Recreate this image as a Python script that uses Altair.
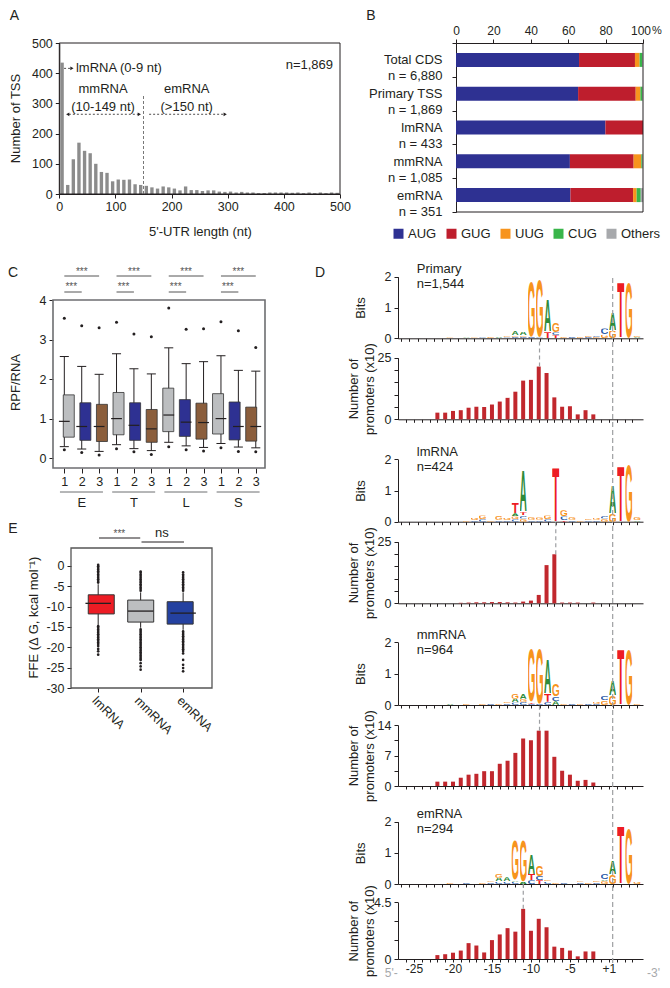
import base64
import altair as alt
import pandas as pd

FONT = "Liberation Sans"
INK = "#231F20"
W, H = 654, 972
ONE = pd.DataFrame({"k": [0]})

# ---------------------------------------------------------------- A data
utr_bin_start = list(range(0, 500, 10))
utr_counts = [435, 30, 115, 170, 143, 135, 100, 73, 70, 42,
              48, 47, 48, 32, 30, 27, 22, 18, 25, 22,
              18, 12, 25, 13, 13, 10, 12, 12, 8, 7,
              8, 5, 7, 5, 5, 3, 3, 5, 5, 5,
              5, 4, 5, 3, 5, 3, 5, 3, 5, 4]

# ---------------------------------------------------------------- B data
b_categories = ["Total CDS", "Primary TSS", "lmRNA", "mmRNA", "emRNA"]
b_counts = ["n = 6,880", "n = 1,869", "n = 433", "n = 1,085", "n = 351"]
codons = ["AUG", "GUG", "UUG", "CUG", "Others"]
pct_aug = [65.8, 65.3, 79.9, 60.9, 61.2]
pct_gug = [29.9, 30.8, 20.1, 34.1, 33.5]
pct_uug = [2.5, 2.5, 0.0, 4.1, 1.9]
pct_cug = [1.4, 1.0, 0.0, 0.6, 2.2]
pct_oth = [0.4, 0.4, 0.0, 0.3, 1.2]

# ---------------------------------------------------------------- C data
c_groups = ["E", "T", "L", "S"]
c_lo = [0.29, 0.23, 0.17, 0.34, 0.24, 0.19, 0.40, 0.31, 0.27, 0.37, 0.28, 0.26]
c_q1 = [0.53, 0.45, 0.42, 0.59, 0.45, 0.40, 0.67, 0.55, 0.48, 0.61, 0.46, 0.43]
c_med = [0.93, 0.80, 0.80, 1.00, 0.83, 0.74, 1.09, 0.91, 0.90, 1.00, 0.80, 0.80]
c_q3 = [1.60, 1.40, 1.36, 1.66, 1.40, 1.23, 1.77, 1.48, 1.39, 1.63, 1.42, 1.29]
c_hi = [2.57, 2.32, 2.12, 2.64, 2.26, 2.13, 2.79, 2.39, 2.44, 2.59, 2.22, 2.20]
c_out_low = [0.21, 0.14, 0.08, 0.24, 0.16, 0.09, 0.29, 0.21, 0.18, 0.26, 0.17, 0.16]
c_out_high = [3.54, 3.35, 3.30, 3.44, 3.14, 3.07, 3.80, 3.26, 3.27, 3.45, 3.22, 2.80]

# ---------------------------------------------------------------- E data
e_labels = ["lmRNA", "mmRNA", "emRNA"]
e_lo = [-14.5, -15.2, -15.7]
e_q1 = [-11.8, -13.8, -14.3]
e_med = [-9.2, -11.1, -11.6]
e_q3 = [-7.1, -8.4, -8.8]
e_hi = [-4.5, -6.5, -6.5]
e_out_lm = [-4.1, -3.7, -3.3, -2.9, -2.5, -2.1, -1.7, -1.3, -0.9, -0.5, -0.1, 0.25,
            -14.8, -15.2, -15.6, -16.0, -16.4, -16.8, -17.2, -17.6, -18.0, -18.4,
            -18.8, -19.2, -19.7, -20.4, -21.0, -21.8]
e_out_mm = [-6.1, -5.7, -5.3, -4.9, -4.5, -4.1, -3.7, -3.3, -2.9, -2.5, -2.1, -1.7, -1.4,
            -15.6, -16.0, -16.4, -16.8, -17.2, -17.6, -18.0, -18.4, -18.8, -19.2, -19.6,
            -20.0, -20.4, -20.8, -21.2, -21.6, -22.0, -22.4, -22.8, -23.1, -23.9, -24.7, -25.5]
e_out_em = [-6.1, -5.7, -5.3, -4.9, -4.5, -4.1, -3.7, -3.3, -2.9, -2.5, -2.1, -1.6,
            -16.1, -16.5, -16.9, -17.3, -17.7, -18.1, -18.5, -18.9, -19.3, -19.7, -20.1,
            -20.5, -20.9, -21.5, -23.1, -24.3, -25.1, -25.9]

# ---------------------------------------------------------------- D data
d_pos = [-22, -21, -20, -19, -18, -17, -16, -15, -14, -13, -12,
         -11, -10, -9, -8, -7, -6, -5, -4, -3, -2]
bars_primary = [2.7, 2.7, 3.4, 3.7, 4.7, 5.1, 5.0, 6.0, 7.2, 8.7, 11.2,
                15.7, 16.0, 21.4, 18.8, 8.9, 5.1, 5.3, 2.0, 3.7, 2.0]
bars_lm = [0, 0, 0, 0.2, 0.3, 0.4, 0.4, 0.5, 0.5, 0.4, 0.3,
           0.7, 1.1, 3.4, 15.5, 19.9, 0.3, 0.3, 0.3, 0, 0.3]
bars_mm = [1.0, 1.0, 1.0, 1.9, 2.6, 2.8, 3.4, 3.4, 5.1, 5.8, 7.6,
           10.9, 10.5, 12.7, 12.7, 6.7, 3.5, 2.6, 1.2, 1.4, 0.8]
bars_em = [0.31, 0.38, 0.5, 0.67, 1.26, 1.07, 0.52, 1.5, 1.95, 2.45, 2.17,
           3.98, 2.24, 3.19, 2.52, 0.98, 0.88, 0.67, 0.21, 0.6, 0.6]

p_pos = [-20, -18, -17, -16, -15, -14, -13, -13,
         -12, -12, -12, -11, -11, -11, -10, -10, -9, -9, -8, -8, -7, -7, -7,
         -6, -5, -4, -3, -3, -2, -2, -1, -1, 1, 1, 2, 3, 4, 4]
p_let = ['G', 'A', 'G', 'C', 'G', 'A', 'C', 'G',
         'C', 'G', 'A', 'C', 'G', 'A', 'C', 'G', 'C', 'G', 'T', 'A', 'T', 'C', 'G',
         'G', 'C', 'G', 'C', 'G', 'G', 'C', 'G', 'C', 'G', 'A', 'T', 'G', 'A', 'G']
p_bits = [.03, .03, .03, .03, .04, .04, .03, .04,
          .05, .06, .13, .05, .05, .12, .05, 1.88, .03, 1.92, .2, 1.06, .1, .1, .3,
          .04, .04, .05, .04, .04, .05, .04, .12, .2, .25, .6, 1.9, 1.9, .04, .05]

l_pos = [-18, -17, -17, -16, -16, -15, -14, -14, -13, -13,
         -12, -12, -12, -12, -11, -11, -11, -11, -10, -10, -9, -9, -8, -8,
         -7, -6, -6, -6, -5, -5, -4, -3, -3, -2, -2, -1, -1,
         1, 1, 2, 3, 4, 4]
l_let = ['G', 'C', 'G', 'C', 'G', 'G', 'C', 'G', 'C', 'G',
         'C', 'G', 'A', 'T', 'G', 'C', 'T', 'A', 'C', 'G', 'C', 'G', 'C', 'G',
         'T', 'T', 'C', 'G', 'C', 'G', 'G', 'C', 'G', 'C', 'G', 'G', 'C',
         'G', 'A', 'T', 'G', 'A', 'G']
l_bits = [.06, .05, .07, .08, .12, .05, .06, .14, .05, .08,
          .08, .09, .1, .34, .1, .1, .1, 1.36, .06, .1, .06, .08, .08, .12,
          1.84, .05, .12, .2, .06, .1, .04, .05, .06, .06, .07, .1, .1,
          .27, .94, 1.88, 1.92, .05, .1]

m_pos = [-20, -18, -16, -15, -14, -13, -13,
         -12, -12, -12, -11, -11, -11, -10, -10, -10, -9, -9, -8, -8, -8, -7, -7, -7,
         -6, -5, -4, -3, -2, -2, -1, -1,
         1, 1, 2, 3, 4]
m_let = ['A', 'G', 'G', 'C', 'G', 'C', 'G',
         'C', 'A', 'G', 'C', 'G', 'A', 'C', 'T', 'G', 'C', 'G', 'C', 'T', 'A', 'A', 'C', 'G',
         'G', 'C', 'G', 'C', 'C', 'G', 'G', 'C',
         'G', 'A', 'T', 'G', 'G']
m_bits = [.03, .03, .03, .03, .04, .05, .06,
          .08, .12, .17, .1, .1, .18, .04, .06, 1.78, .04, 1.88, .1, .25, 1.17, .12, .15, .4,
          .04, .04, .05, .06, .04, .07, .15, .15,
          .3, .5, 1.88, 1.86, .06]

e_pos = [-20, -18, -16, -15, -15, -14, -14, -14, -13, -13,
         -12, -12, -12, -11, -11, -10, -10, -10, -9, -9, -9, -8, -8,
         -7, -6, -4, -4, -3, -2, -2, -1, -1, -1,
         1, 1, 2, 3, 4]
e_let = ['G', 'C', 'G', 'C', 'G', 'C', 'A', 'G', 'C', 'A',
         'C', 'A', 'G', 'A', 'G', 'C', 'T', 'A', 'T', 'C', 'G', 'C', 'G',
         'G', 'C', 'C', 'G', 'G', 'C', 'G', 'G', 'A', 'C',
         'G', 'A', 'T', 'G', 'G']
e_bits = [.03, .03, .04, .05, .04, .08, .12, .14, .08, .14,
          .07, .06, 1.34, .08, 1.39, .12, .2, .66, .12, .14, .35, .08, .05,
          .04, .04, .05, .04, .05, .06, .05, .1, .05, .18,
          .3, .45, 1.95, 1.86, .08]

# ---------------------------------------------------------------- styles
codon_colors = ["#2E3192", "#BE1E2D", "#F7941D", "#39B54A", "#A7A9AC"]
C_FILLS = ["#BCBEC0", "#2E3192", "#8B5E3C"]
E_FILLS = ["#ED1C24", "#BCBEC0", "#2441A0"]
BAR_RED = "#C1272D"
DASH = "#9D9FA2"
LETTER_COLORS = {"A": "#2E8B3A", "C": "#2B5BA8", "G": "#F7941D", "T": "#ED1C24"}
LETTER_W = {"A": 72, "C": 66, "G": 70, "T": 60}


def glyph_url(ch):
    w = LETTER_W[ch]
    svg = ('<svg xmlns="http://www.w3.org/2000/svg" width="%d" height="75" '
           'viewBox="%.1f -73.5 %d 75" preserveAspectRatio="none">'
           '<text x="0" y="0" text-anchor="middle" font-family="Liberation Sans, Arial, sans-serif" '
           'font-weight="bold" font-size="100" fill="%s">%s</text></svg>') % (w, -w / 2, w, LETTER_COLORS[ch], ch)
    return "data:image/svg+xml;base64," + base64.b64encode(svg.encode()).decode()


URLS = {ch: glyph_url(ch) for ch in "ACGT"}
NUM = "'' + datum.value"


def ax(orient, offset, **kw):
    d = dict(orient=orient, offset=offset, grid=False, tickSize=4, labelPadding=3,
             labelFontSize=12.5, labelColor=INK, tickColor=INK, domainColor=INK,
             titleFontSize=13, titleFontWeight="normal", titleColor=INK,
             labelFlush=False, labelOverlap=False, title=None)
    d.update(kw)
    return alt.Axis(**d)


def left_title(title, tx, ty):
    return dict(title=title, titleX=tx, titleY=ty, titleAngle=270,
                titleBaseline="middle", titleAlign="center")


def XD(v, s):
    return alt.XDatum(v, scale=s, axis=None, type="quantitative")


def YD(v, s):
    return alt.YDatum(v, scale=s, axis=None, type="quantitative")


def dtext(text, x, y, xs, ys, **mk):
    m = dict(font=FONT, color=INK, fontSize=13, baseline="middle", align="center")
    m.update(mk)
    return alt.Chart(ONE).mark_text(text=text, **m).encode(x=XD(x, xs), y=YD(y, ys))


def vtext(text, x, y, **mk):
    m = dict(font=FONT, color=INK, fontSize=14, baseline="middle", align="center")
    m.update(mk)
    return alt.Chart(ONE).mark_text(text=text, **m).encode(x=alt.value(x), y=alt.value(y))


units = []

# ================================================================ panel A
AX = alt.Scale(domain=[0, 500], range=[51.3, 332], nice=False, zero=False)
AY = alt.Scale(domain=[0, 500], range=[186, 35], nice=False, zero=False)
dfA = pd.DataFrame({"start": utr_bin_start, "count": utr_counts})
dfA["x0"] = dfA["start"] + 2
dfA["x1"] = dfA["start"] + 8

units.append(alt.Chart(dfA).mark_bar(color="#8C8C8C").encode(
    x=alt.X("x0:Q", scale=AX, axis=ax("bottom", 186 - H, values=[0, 100, 200, 300, 400, 500],
                                       labelExpr=NUM, labelPadding=2,
                                       title="5'-UTR length (nt)", titleX=192, titleY=37,
                                       titleBaseline="middle", titleAlign="center")),
    x2="x1:Q",
    y=alt.Y("count:Q", scale=AY, axis=ax("left", -51.3, values=[0, 100, 200, 300, 400, 500],
                                         labelExpr=NUM,
                                         **left_title("Number of TSS", -44.3, 110))),
    y2=alt.datum(0),
))
units.append(alt.Chart(ONE).mark_rect(fillOpacity=0, stroke=INK, strokeWidth=1).encode(
    x=XD(0, AX), x2=alt.datum(500), y=YD(0, AY), y2=alt.datum(500)))
units.append(alt.Chart(ONE).mark_rule(strokeDash=[3, 2], color="#555555", strokeWidth=0.8).encode(
    x=XD(150, AX), y=YD(0, AY), y2=alt.datum(328)))


def a_arrow(x0, x1, y):
    return alt.Chart(ONE).mark_rule(strokeDash=[2, 2], color=INK, strokeWidth=0.8).encode(
        x=XD(x0, AX), x2=alt.datum(x1), y=YD(y, AY))


def a_head(x, y, shape):
    return alt.Chart(ONE).mark_point(shape=shape, filled=True, size=14, color=INK, opacity=1).encode(
        x=XD(x, AX), y=YD(y, AY))


units += [
    a_arrow(8.5, 21, 416), a_head(22.5, 416, "triangle-right"),
    a_arrow(17, 140, 264), a_head(15, 264, "triangle-left"), a_head(142.5, 264, "triangle-right"),
    a_arrow(160, 293, 264), a_head(295.5, 264, "triangle-right"),
    dtext("lmRNA (0-9 nt)", 29.7, 416, AX, AY, align="left"),
    dtext("mmRNA", 78, 347, AX, AY),
    dtext("(10-149 nt)", 78, 288, AX, AY),
    dtext("emRNA", 227, 347, AX, AY),
    dtext("(>150 nt)", 227, 288, AX, AY),
    dtext("n=1,869", 487.6, 427, AX, AY, align="right"),
]

# ================================================================ panel B
b_keys = [c + "|" + n for c, n in zip(b_categories, b_counts)]
rows = []
for i, key in enumerate(b_keys):
    for k, vals in enumerate([pct_aug, pct_gug, pct_uug, pct_cug, pct_oth]):
        rows.append({"key": key, "codon": codons[k], "pct": vals[i], "k": k})
dfB = pd.DataFrame(rows)
BX = alt.Scale(domain=[0, 100], range=[448, 635], nice=False, zero=False)
BY = alt.Scale(domain=b_keys, range=[35, 204], paddingInner=0, paddingOuter=0)

units.append(alt.Chart(dfB).mark_bar(height=14).encode(
    x=alt.X("pct:Q", stack="zero", scale=BX,
            axis=ax("top", -35, values=[0, 20, 40, 60, 80, 100], labelPadding=2, labelExpr=NUM,
                    labelFontSize=12,
                    labelOffset={"condition": {"test": "datum.value == 100", "value": -2.5}, "value": 0})),
    y=alt.Y("key:N", sort=b_keys, scale=BY,
            axis=ax("left", -448, tickBand="extent", labelExpr="split(datum.label, '|')",
                    labelLineHeight=16, labelFontSize=13, labelPadding=10)),
    color=alt.Color("codon:N", scale=alt.Scale(domain=codons, range=codon_colors),
                    legend=alt.Legend(orient="none", legendX=384, legendY=219, direction="horizontal",
                                      title=None, symbolType="square", symbolSize=100,
                                      symbolStrokeWidth=0, labelFontSize=13, labelColor=INK,
                                      columnPadding=8, labelOffset=3, labelFont=FONT)),
    order=alt.Order("k:Q"),
))
units.append(alt.Chart(ONE).mark_rule(color=INK, strokeWidth=1).encode(
    x=XD(100, BX), y=alt.value(35), y2=alt.value(204)))
units.append(alt.Chart(ONE).mark_rule(color=INK, strokeWidth=1).encode(
    x=XD(0, BX), x2=alt.datum(100), y=alt.value(204)))

# ================================================================ panel C
CX = alt.Scale(domain=[-0.65, 11.53], range=[45, 257], nice=False, zero=False)
CY = alt.Scale(domain=[-0.25, 4], range=[460, 292], nice=False, zero=False)
dfC = pd.DataFrame({"i": list(range(12)), "lo": c_lo, "q1": c_q1, "med": c_med,
                    "q3": c_q3, "hi": c_hi})
dfC["fill"] = [C_FILLS[i % 3] for i in range(12)]
dfC["cx0"] = dfC["i"] - 0.26
dfC["cx1"] = dfC["i"] + 0.26
dfC["mx0"] = dfC["i"] - 0.31
dfC["mx1"] = dfC["i"] + 0.31
dfCo = pd.DataFrame({"i": list(range(12)) * 2, "v": c_out_low + c_out_high})

units.append(alt.Chart(dfC).mark_rule(color=INK, strokeWidth=1).encode(
    x=alt.X("i:Q", scale=CX, axis=ax("bottom", 460 - H, values=list(range(12)), tickSize=5,
                                     labelExpr="'' + (datum.value % 3 + 1)", domain=False, labelPadding=2)),
    y=alt.Y("lo:Q", scale=CY, axis=ax("left", -45, values=[0, 1, 2, 3, 4], domain=False, labelExpr=NUM,
                                      **left_title("RPF/RNA", -38, 374))),
    y2="hi:Q"))
units.append(alt.Chart(dfC).mark_rule(color=INK, strokeWidth=1).encode(
    x=alt.X("cx0:Q", scale=CX, axis=None), x2="cx1:Q", y=alt.Y("lo:Q", scale=CY, axis=None)))
units.append(alt.Chart(dfC).mark_rule(color=INK, strokeWidth=1).encode(
    x=alt.X("cx0:Q", scale=CX, axis=None), x2="cx1:Q", y=alt.Y("hi:Q", scale=CY, axis=None)))
units.append(alt.Chart(dfC).mark_bar(width=11, stroke="#333333", strokeWidth=0.8).encode(
    x=alt.X("i:Q", scale=CX, axis=None), y=alt.Y("q1:Q", scale=CY, axis=None), y2="q3:Q",
    color=alt.Color("fill:N", scale=None)))
units.append(alt.Chart(dfC).mark_rule(color=INK, strokeWidth=1.2).encode(
    x=alt.X("mx0:Q", scale=CX, axis=None), x2="mx1:Q", y=alt.Y("med:Q", scale=CY, axis=None)))
units.append(alt.Chart(dfCo).mark_point(filled=True, size=9, color=INK, opacity=1).encode(
    x=alt.X("i:Q", scale=CX, axis=None), y=alt.Y("v:Q", scale=CY, axis=None)))
units.append(alt.Chart(ONE).mark_rect(fillOpacity=0, stroke="#6D6E71", strokeWidth=1.6).encode(
    x=XD(-0.65, CX), x2=alt.datum(11.53), y=YD(-0.25, CY), y2=alt.datum(4)))

dfG = pd.DataFrame({"g": c_groups, "gi": [0, 1, 2, 3]})
dfG["a"] = dfG["gi"] * 3
dfG["b"] = dfG["gi"] * 3 + 1
dfG["c"] = dfG["gi"] * 3 + 2
dfG["ul0"] = dfG["gi"] * 3 - 0.25
dfG["ul1"] = dfG["gi"] * 3 + 2.22
dfG["s2"] = dfG["gi"] * 3 + 0.4

units.append(alt.Chart(dfG).mark_rule(color="#6D6E71", strokeWidth=1).encode(
    x=alt.X("ul0:Q", scale=CX, axis=None), x2="ul1:Q", y=alt.value(484)))
units.append(alt.Chart(dfG).mark_text(fontSize=13, color=INK, font=FONT, baseline="middle").encode(
    x=alt.X("b:Q", scale=CX, axis=None), y=alt.value(495), text="g:N"))
units.append(alt.Chart(dfG).mark_rule(color="#555555", strokeWidth=1).encode(
    x=alt.X("a:Q", scale=CX, axis=None), x2="c:Q", y=alt.value(268)))
units.append(alt.Chart(dfG).mark_rule(color="#555555", strokeWidth=1).encode(
    x=alt.X("a:Q", scale=CX, axis=None), x2="b:Q", y=alt.value(284)))
units.append(alt.Chart(dfG).mark_text(text="***", fontSize=10, color="#555555", font=FONT,
                                      baseline="alphabetic").encode(
    x=alt.X("b:Q", scale=CX, axis=None), y=alt.value(266.5)))
units.append(alt.Chart(dfG).mark_text(text="***", fontSize=10, color="#555555", font=FONT,
                                      baseline="alphabetic").encode(
    x=alt.X("s2:Q", scale=CX, axis=None), y=alt.value(282)))

# ================================================================ panel E
EX = alt.Scale(domain=[-0.64, 2.68], range=[63, 204], nice=False, zero=False)
EY = alt.Scale(domain=[-30, 4.4], range=[680, 540], nice=False, zero=False)
dfE = pd.DataFrame({"i": [0, 1, 2], "lo": e_lo, "q1": e_q1, "med": e_med, "q3": e_q3, "hi": e_hi,
                    "fill": E_FILLS})
dfE["mx0"] = dfE["i"] - 0.3
dfE["mx1"] = dfE["i"] + 0.3
dfEo = pd.DataFrame({"i": [0] * len(e_out_lm) + [1] * len(e_out_mm) + [2] * len(e_out_em),
                     "v": e_out_lm + e_out_mm + e_out_em})
e_label_expr = "[" + ",".join("'%s'" % s for s in e_labels) + "][datum.value]"

units.append(alt.Chart(dfE).mark_rule(color=INK, strokeWidth=1).encode(
    x=alt.X("i:Q", scale=EX, axis=ax("bottom", 680 - H, values=[0, 1, 2], labelExpr=e_label_expr,
                                     labelAngle=45, labelAlign="left", labelBaseline="top",
                                     labelPadding=2, domain=False)),
    y=alt.Y("lo:Q", scale=EY, axis=ax("left", -63, values=[0, -5, -10, -15, -20, -25, -30], domain=False,
                                      labelExpr=NUM,
                                      **left_title("FFE (\u0394 G, kcal mol\u207b\u00b9)", -38, 609))),
    y2="hi:Q"))
units.append(alt.Chart(dfEo).mark_point(filled=True, size=7, color=INK, opacity=1).encode(
    x=alt.X("i:Q", scale=EX, axis=None), y=alt.Y("v:Q", scale=EY, axis=None)))
units.append(alt.Chart(dfE).mark_bar(width=26, stroke="#333333", strokeWidth=1).encode(
    x=alt.X("i:Q", scale=EX, axis=None), y=alt.Y("q1:Q", scale=EY, axis=None), y2="q3:Q",
    color=alt.Color("fill:N", scale=None)))
units.append(alt.Chart(dfE).mark_rule(color=INK, strokeWidth=1.3).encode(
    x=alt.X("mx0:Q", scale=EX, axis=None), x2="mx1:Q", y=alt.Y("med:Q", scale=EY, axis=None)))
units.append(alt.Chart(ONE).mark_rect(fillOpacity=0, stroke="#555555", strokeWidth=1.3).encode(
    x=XD(-0.64, EX), x2=alt.datum(2.68), y=YD(-30, EY), y2=alt.datum(4.4)))
units.append(alt.Chart(ONE).mark_rule(color=INK, strokeWidth=1).encode(
    x=XD(0.02, EX), x2=alt.datum(0.99), y=alt.value(530)))
units.append(alt.Chart(ONE).mark_rule(color=INK, strokeWidth=1).encode(
    x=XD(1.02, EX), x2=alt.datum(2.02), y=alt.value(534)))
units.append(alt.Chart(ONE).mark_text(text="***", fontSize=10, color="#555555", font=FONT,
                                      baseline="alphabetic").encode(x=XD(0.5, EX), y=alt.value(529)))
units.append(alt.Chart(ONE).mark_text(text="ns", fontSize=13, color=INK, font=FONT,
                                      baseline="alphabetic").encode(x=XD(1.5, EX), y=alt.value(529)))

# ================================================================ panel D
DX = alt.Scale(domain=[-26.41, 3.73], range=[390, 635], nice=False, zero=False)
D_TICKS = list(range(-26, 4))


def to_idx(p):
    return p if p < 0 else p - 1


def logo_df(pos, let, bits):
    cum = {}
    out = []
    for p, l, b in zip(pos, let, bits):
        i = to_idx(p)
        y0 = cum.get(i, 0.0)
        cum[i] = y0 + b
        out.append({"x0": i - 0.45, "x1": i + 0.45, "y0": y0, "y1": y0 + b, "url": URLS[l]})
    return pd.DataFrame(out)


def d_logo(pos, let, bits, yr, name, n):
    ys = alt.Scale(domain=[0, 2], range=yr, nice=False, zero=False)
    img = alt.Chart(logo_df(pos, let, bits)).mark_image(aspect=False).encode(
        x=alt.X("x0:Q", scale=DX, axis=ax("bottom", yr[0] - H, values=D_TICKS, labels=False, tickSize=3)),
        x2="x1:Q",
        y=alt.Y("y0:Q", scale=ys, axis=ax("left", -390, values=[0, 1, 2], labelExpr=NUM,
                                          **left_title("Bits", -38, (yr[0] + yr[1]) / 2))),
        y2="y1:Q",
        url="url:N")
    t1 = dtext(name, -24.1, 2.24, DX, ys, align="left")
    t2 = dtext(n, -24.1, 1.75, DX, ys, align="left")
    return [img, t1, t2]


def d_bars(vals, yr, top, ticks, shown, peak, logo_base, bottom_labels=False):
    ys = alt.Scale(domain=[0, top], range=yr, nice=False, zero=False)
    df = pd.DataFrame({"i": [to_idx(p) for p in d_pos], "v": vals})
    shown_expr = " || ".join("datum.value == %s" % s for s in shown)
    if bottom_labels:
        xaxis = ax("bottom", yr[0] - H, values=D_TICKS, tickSize=3, labelPadding=1, labelFontSize=12,
                   labelExpr="datum.value == 0 ? '+1' : (datum.value % 5 == 0 ? '' + datum.value : '')")
    else:
        xaxis = ax("bottom", yr[0] - H, values=D_TICKS, labels=False, tickSize=3)
    bars = alt.Chart(df).mark_bar(width=4, color=BAR_RED).encode(
        x=alt.X("i:Q", scale=DX, axis=xaxis),
        y=alt.Y("v:Q", scale=ys, axis=ax("left", -390, values=ticks,
                                         labelExpr="(%s) ? '' + datum.value : ''" % shown_expr,
                                         titleLineHeight=16,
                                         **left_title(["Number of", "promoters (x10)"], -44.5,
                                                      (yr[0] + yr[1]) / 2))))
    pk = df[df["i"] == to_idx(peak)]
    peak_rule = alt.Chart(pk).mark_rule(strokeDash=[4, 3], color=DASH, strokeWidth=1.2).encode(
        x=alt.X("i:Q", scale=DX, axis=None), y=alt.Y("v:Q", scale=ys, axis=None),
        y2=alt.value(logo_base))
    return [bars, peak_rule]


units += d_logo(p_pos, p_let, p_bits, [330.3, 268.7], "Primary", "n=1,544")
units += d_bars(bars_primary, [411.3, 349.7], 25, [0, 5, 10, 15, 20, 25], [0, 25], -9, 330.3)
units += d_logo(l_pos, l_let, l_bits, [513.7, 451.3], "lmRNA", "n=424")
units += d_bars(bars_lm, [595.3, 533.7], 25, [0, 5, 10, 15, 20, 25], [0, 25], -7, 513.7)
units += d_logo(m_pos, m_let, m_bits, [697, 634.3], "mmRNA", "n=964")
units += d_bars(bars_mm, [778, 717], 14, [0, 3.5, 7, 10.5, 14], [0, 7, 14], -9, 697)
units += d_logo(e_pos, e_let, e_bits, [876, 813.7], "emRNA", "n=294")
units += d_bars(bars_em, [951, 894.3], 4.5, [0, 1.5, 3, 4.5], [0, 4.5], -11, 876,
                bottom_labels=True)

units.append(alt.Chart(ONE).mark_rule(strokeDash=[5, 3], color=DASH, strokeWidth=1.2).encode(
    x=XD(0, DX), y=alt.value(270), y2=alt.value(958)))
units.append(alt.Chart(ONE).mark_text(text="5'-", fontSize=12, color="#A7A9AC", font=FONT,
                                      align="right", baseline="middle").encode(
    x=XD(-26.45, DX), y=alt.value(965)))
units.append(alt.Chart(ONE).mark_text(text="-3'", fontSize=12, color="#A7A9AC", font=FONT,
                                      align="left", baseline="middle").encode(
    x=XD(4.22, DX), y=alt.value(965)))

# ================================================================ letters
units += [vtext("A", 6.5, 7.8), vtext("B", 363, 7.8), vtext("C", 5, 264.5),
          vtext("D", 312, 264.5), vtext("E", 5, 520.7),
          vtext("%", 644, 23, fontSize=11, align="left")]

chart = alt.layer(*units).resolve_scale(
    x="independent", y="independent"
).resolve_axis(
    x="independent", y="independent"
).properties(
    width=W, height=H, padding=0, autosize=alt.AutoSizeParams(type="none")
).configure(font=FONT).configure_view(stroke=None)

chart.save("out.html", embed_options={"renderer": "svg", "actions": False})
